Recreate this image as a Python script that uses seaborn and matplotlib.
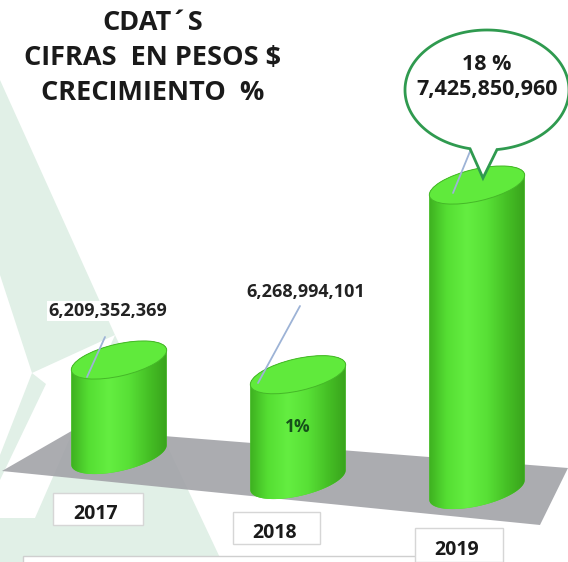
import numpy as np
import matplotlib.pyplot as plt
import seaborn as sns
from matplotlib.patches import Ellipse, Polygon, Rectangle
from matplotlib.colors import LinearSegmentedColormap
from matplotlib.transforms import ScaledTranslation

# data
years = ['2017', '2018', '2019']
amounts = [6209352369, 6268994101, 7425850960]
growth = ['', '1%', '18 %']
title_lines = ['CDAT´S', 'CIFRAS  EN PESOS $', 'CRECIMIENTO  %']

W, H = 568, 562
base = 5.659e9          # value sitting on the floor
px_per_unit = 172.6     # pixels per 1e9 pesos
unit_px = 179           # pixels between categories
drop_px = [0, 25, 35]   # perspective drop of each bar foot
bar_w = 0.545

sns.set_style('white')
plt.rcParams['font.family'] = ['Open Sans', 'DejaVu Sans']

fig = plt.figure(figsize=(W / 100, H / 100), dpi=100)

# background: mint logo shapes and grey floor
bg = fig.add_axes([0, 0, 1, 1], zorder=0)
bg.set_xlim(0, W)
bg.set_ylim(H, 0)
bg.axis('off')
mint = '#e1f0e7'
shapes = [
    [(0, 80), (115, 335), (32, 373), (0, 275)],
    [(115, 335), (222, 562), (0, 562), (0, 518), (35, 518)],
    [(32, 373), (46, 384), (0, 480), (0, 455)],
]
for pts in shapes:
    bg.add_patch(Polygon(pts, closed=True, facecolor=mint, edgecolor='none'))
bg.add_patch(Polygon([(2, 471), (75, 429), (568, 468), (540, 525)], closed=True,
                     facecolor='#a2a3a8', alpha=0.9, edgecolor='none'))

# bars
ax = fig.add_axes([(119 - unit_px / 2) / W, 0, 3 * unit_px / W, 1], zorder=1)
ax.patch.set_alpha(0)
heights = [(a - base) / 1e9 for a in amounts]
sns.barplot(x=years, y=heights, ax=ax, color='#4fd42c', saturation=1, width=bar_w)

xlim = (-0.5, 2.5)
ylim = (-(H - 455) / px_per_unit, 455 / px_per_unit)
ax.set_xlim(xlim)
ax.set_ylim(ylim)

body_cmap = LinearSegmentedColormap.from_list(
    'body', ['#3aa91d', '#55de33', '#64ee41', '#58e036', '#45bf25', '#379f1b'])
grad = np.linspace(0, 1, 200).reshape(1, -1)
a = bar_w * unit_px / 100 / 2   # ellipse half axes, inches
b = 0.16
th = np.radians(13)


def ell(t, dy=0.0):
    x = a * np.cos(t) * np.cos(th) - b * np.sin(t) * np.sin(th)
    y = a * np.cos(t) * np.sin(th) + b * np.sin(t) * np.cos(th) + dy
    return np.column_stack([x, y])


t_r = np.arctan(-(b / a) * np.tan(th))
lower = np.linspace(t_r + np.pi, t_r + 2 * np.pi, 80)
upper = np.linspace(t_r, t_r + np.pi, 80)

bars = list(ax.patches)
for i, bar in enumerate(bars):
    bar.set_y(bar.get_y() - drop_px[i] / px_per_unit)
    bar.set_alpha(0)
    x0, w = bar.get_x(), bar.get_width()
    y0, h = bar.get_y(), bar.get_height()
    cx = x0 + w / 2
    h_in = (ax.transData.transform((cx, y0 + h))[1] - ax.transData.transform((cx, y0))[1]) / fig.dpi

    foot_tr = fig.dpi_scale_trans + ScaledTranslation(cx, y0, ax.transData)
    body = Polygon(np.vstack([ell(lower), ell(upper, h_in)]), closed=True,
                   transform=foot_tr, facecolor='#4fd42c', edgecolor='none', zorder=1.5)
    ax.add_patch(body)
    im = ax.imshow(grad, cmap=body_cmap, extent=(x0 - 0.01, x0 + w + 0.01, y0 - 0.2, y0 + h + 0.2),
                   aspect='auto', zorder=2)
    im.set_clip_path(body)

    top = Ellipse((0, 0), 2 * a, 2 * b, angle=np.degrees(th),
                  transform=fig.dpi_scale_trans + ScaledTranslation(cx, y0 + h, ax.transData),
                  facecolor='#60ea3c', edgecolor='#45b828', lw=0.7, zorder=3)
    ax.add_patch(top)

    if growth[i] and i != len(bars) - 1:
        ax.text(cx, y0 + h / 2, growth[i], ha='center', va='center',
                fontsize=12.5, fontweight='bold', color='#15501a', zorder=4)

ax.set_xlim(xlim)
ax.set_ylim(ylim)
ax.axis('off')

# foreground: labels, leaders, bubble, year boxes
fg = fig.add_axes([0, 0, 1, 1], zorder=2)
fg.set_xlim(0, W)
fg.set_ylim(H, 0)
fg.axis('off')
fg.patch.set_alpha(0)

for k, line in enumerate(title_lines):
    fg.text(153, 23 + 35 * k, line, ha='center', va='center', fontsize=19.5,
            fontweight='bold', color='#1a1a1a')

fg.text(108, 311, f'{amounts[0]:,}', ha='center', va='center', fontsize=13,
        fontweight='bold', color='#222222',
        bbox=dict(facecolor='white', edgecolor='none', pad=1))
fg.text(306, 292, f'{amounts[1]:,}', ha='center', va='center', fontsize=13,
        fontweight='bold', color='#222222')

leader = '#9db3d6'
fg.plot([105, 87], [337, 377], color=leader, lw=1.3)
fg.plot([300, 258], [306, 383], color=leader, lw=1.3)
fg.plot([487, 453], [110, 193], color=leader, lw=1.3)

# speech bubble
bcx, bcy, rx, ry = 487, 90, 82, 60
a1 = np.arccos((470 - bcx) / rx)
a2 = 2 * np.pi + np.arccos((497 - bcx) / rx)
t = np.linspace(a1, a2, 200)
pts = np.column_stack([bcx + rx * np.cos(t), bcy + ry * np.sin(t)])
pts = np.vstack([pts, [[483, 178]]])
fg.add_patch(Polygon(pts, closed=True, facecolor='white', edgecolor='#2f9a4f', lw=2, zorder=5))
fg.text(bcx, 64, growth[2], ha='center', va='center', fontsize=15.5,
        fontweight='bold', color='#1a1a1a', zorder=6)
fg.text(bcx, 90, f'{amounts[2]:,}', ha='center', va='center', fontsize=15.5,
        fontweight='bold', color='#1a1a1a', zorder=6)

# year boxes
fg.add_patch(Rectangle((23, 556), 400, 20, facecolor='white', edgecolor='#cfcfcf', lw=1))
boxes = [(53, 493, 90, 32), (233, 512, 87, 32), (415, 528, 88, 34)]
for (bx, by, bw, bh), yr in zip(boxes, years):
    fg.add_patch(Rectangle((bx, by), bw, bh, facecolor='white', edgecolor='#d6d6d6', lw=1))
    fg.text(bx + bw / 2 - 2, by + bh / 2 + 5, yr, ha='center', va='center', fontsize=14,
            fontweight='bold', color='#1a1a1a')

fig.savefig('out.png', dpi=100)
